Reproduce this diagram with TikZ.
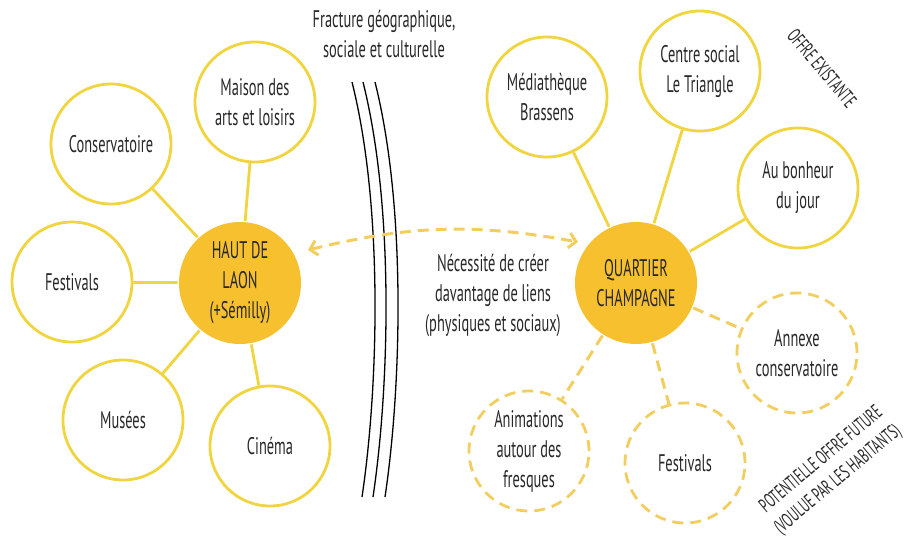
\documentclass[tikz,border=0pt]{standalone}
\usepackage{fontspec}
\setmainfont{PT Sans}[FakeStretch=0.6]
\usepackage{tikz}
\usetikzlibrary{arrows.meta}
\definecolor{ringYellow}{RGB}{240, 212, 64}
\definecolor{hubYellow}{RGB}{246, 192, 46}
\definecolor{dashYellow}{RGB}{242, 206, 96}
\definecolor{inkGrey}{RGB}{40, 40, 40}

\begin{document}
\begin{tikzpicture}[x=1pt, y=-1pt,
    offer/.style={circle, draw=ringYellow, line width=2.8pt, minimum size=120pt, inner sep=0pt,
      align=center, text=inkGrey, font=\fontsize{24}{30}\selectfont},
    future/.style={offer, draw=dashYellow, dash pattern=on 11pt off 7pt},
    hub/.style={offer, draw=none, fill=hubYellow, minimum size=122pt},
    link/.style={ringYellow, line width=2.8pt},
    futurelink/.style={dashYellow, line width=3pt, dash pattern=on 11pt off 7pt},
    note/.style={align=center, text=inkGrey, font=\fontsize{24}{30}\selectfont},
    tag/.style={align=center, text=inkGrey, font=\fontsize{20}{26}\selectfont}]
  \useasboundingbox (0,0) rectangle (908,541);

  % the two poles
  \node[hub] (haut) at (240,283) {HAUT DE\\LAON\\(+Sémilly)};
  \node[hub] (quartier) at (636,283) {QUARTIER\\CHAMPAGNE};

  % haut de Laon
  \node[offer] (maison) at (255,102) {Maison des\\arts et loisirs};
  \node[offer] (conserv) at (111,144) {Conservatoire};
  \node[offer] (festL) at (72,282) {Festivals};
  \node[offer] (musees) at (123,420) {Musées};
  \node[offer] (cinema) at (270,446) {Cinéma};

  % quartier Champagne, existing
  \node[offer] (media) at (547,97) {Médiathèque\\Brassens};
  \node[offer] (centre) at (700,71) {Centre social\\Le Triangle};
  \node[offer] (bonheur) at (798,188) {Au bonheur\\du jour};

  % quartier Champagne, wished for
  \node[future] (annexe) at (797,353) {Annexe\\conservatoire};
  \node[future] (festR) at (685,463) {Festivals};
  \node[future] (anim) at (529,451) {Animations\\autour des\\fresques};

  \draw[link] (haut) -- (maison);
  \draw[link] (haut) -- (conserv);
  \draw[link] (haut) -- (festL);
  \draw[link] (haut) -- (musees);
  \draw[link] (haut) -- (cinema);
  \draw[link] (quartier) -- (media);
  \draw[link] (quartier) -- (centre);
  \draw[link] (quartier) -- (bonheur);
  \draw[futurelink] (quartier) -- (annexe);
  \draw[futurelink] (quartier) -- (festR);
  \draw[futurelink] (quartier) -- (anim);

  % fracture
  \node[note] (fracture) at (384,34) {Fracture géographique,\\sociale et culturelle};
  \draw[line width=1.3pt] (352,82) .. controls (384,210) and (378,390) .. (362,497);
  \draw[line width=1.3pt] (363,82) .. controls (395,210) and (389,390) .. (373,497);
  \draw[line width=1.3pt] (375,82) .. controls (407,210) and (401,390) .. (385,497);

  % link to build
  \coordinate (tipL) at (308,250);
  \coordinate (tipR) at (578,242);
  \draw[futurelink, {Straight Barb[length=7pt, width=15pt]}-{Straight Barb[length=7pt, width=15pt]}]
    (tipL) to[bend left=12] (tipR);
  \node[note] (besoin) at (493,295) {Nécessité de créer\\davantage de liens\\(physiques et sociaux)};

  \node[tag, rotate=-50] (existant) at (822,68) {OFFRE EXISTANTE};
  \node[tag, rotate=40] (potentiel) at (830,470) {POTENTIELLE OFFRE FUTURE\\(VOULUE PAR LES HABITANTS)};
\end{tikzpicture}
\end{document}
